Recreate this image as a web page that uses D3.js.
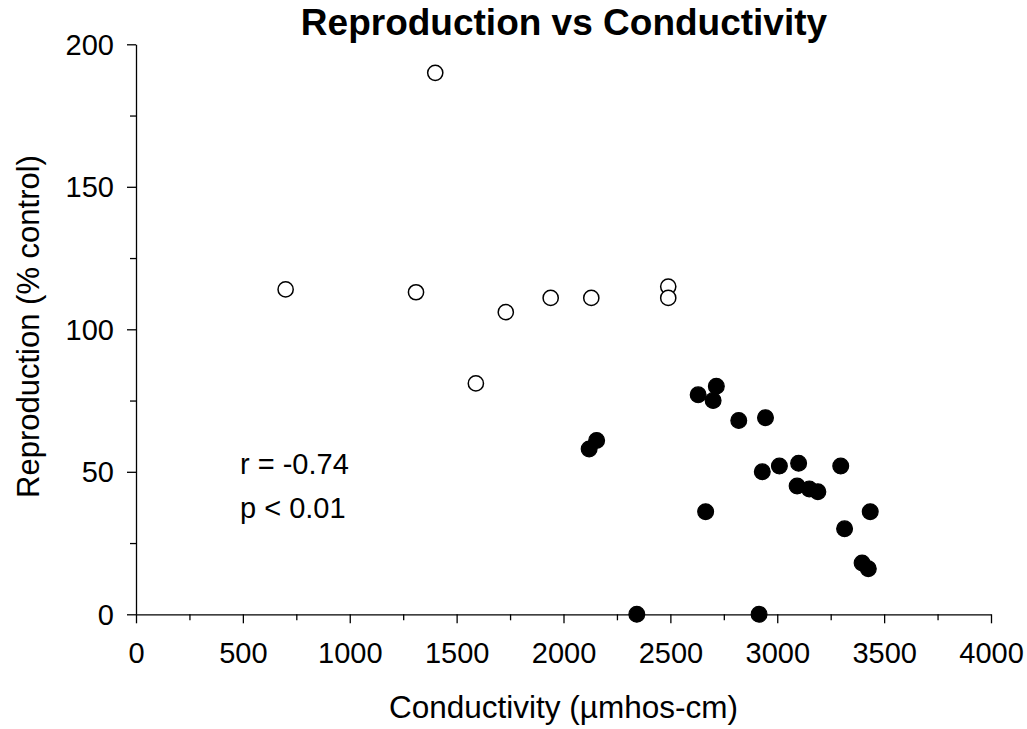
<!DOCTYPE html>
<html><head><meta charset="utf-8">
<script src="https://cdn.jsdelivr.net/npm/d3@7"></script>
<style>
body{margin:0;background:#fff;}
svg{display:block;font-family:"Liberation Sans",Arial,sans-serif;}
</style></head>
<body>
<script>
const openX = [700, 1310, 1400, 1590, 1730, 1940, 2130, 2490, 2490];
const openY = [114, 113, 190, 81, 106, 111, 111, 115, 111];
const filledX = [2120, 2155, 2343, 2630, 2665, 2700, 2715, 2820, 2915, 2930, 2945, 3010, 3093, 3100, 3150, 3190, 3297, 3315, 3397, 3426, 3435];
const filledY = [58, 61, 0, 77, 36, 75, 80, 68, 0, 50, 69, 52, 45, 53, 44, 43, 52, 30, 18, 16, 36];
const xTicks = [0, 500, 1000, 1500, 2000, 2500, 3000, 3500, 4000];
const yTicks = [0, 50, 100, 150, 200];
const xMinor = [250, 750, 1250, 1750, 2250, 2750, 3250, 3750];
const yMinor = [25, 75, 125, 175];
const title = "Reproduction vs Conductivity";
const xTitle = "Conductivity (µmhos-cm)";
const yTitle = "Reproduction (% control)";
const stats = ["r = -0.74", "p < 0.01"];

const W = 1027, H = 729;
const svg = d3.select("body").append("svg").attr("width", W).attr("height", H);
const x = d3.scaleLinear().domain([0, 4000]).range([136, 991]);
const y = d3.scaleLinear().domain([0, 200]).range([614.3, 44.3]);

function styleAxis(g){
  g.selectAll("path").attr("stroke","#000").attr("stroke-width",1.3);
  g.selectAll("line").attr("stroke","#000").attr("stroke-width",1.3);
  g.selectAll("text").attr("fill","#000").style("font-size","29px").style("font-family","'Liberation Sans',Arial,sans-serif");
}
// minor ticks
svg.append("g").attr("transform",`translate(0,${y(0)})`)
  .call(d3.axisBottom(x).tickValues(xMinor).tickSize(6).tickFormat("").tickSizeOuter(0))
  .call(g=>g.select("path").remove()).call(styleAxis);
svg.append("g").attr("transform",`translate(${x(0)},0)`)
  .call(d3.axisLeft(y).tickValues(yMinor).tickSize(6).tickFormat("").tickSizeOuter(0))
  .call(g=>g.select("path").remove()).call(styleAxis);
// major
const gx = svg.append("g").attr("transform",`translate(0,${y(0)})`)
  .call(d3.axisBottom(x).tickValues(xTicks).tickSize(9).tickSizeOuter(0).tickPadding(8).tickFormat(d3.format("d")))
  .call(styleAxis);
gx.selectAll("text").attr("dy",null).attr("y",49).attr("dominant-baseline","alphabetic");
const gy = svg.append("g").attr("transform",`translate(${x(0)},0)`)
  .call(d3.axisLeft(y).tickValues(yTicks).tickSize(9).tickSizeOuter(0).tickFormat(d3.format("d")))
  .call(styleAxis);
gy.selectAll("text").attr("x",-22).attr("dy","0.35em");

// points
svg.append("g").selectAll("circle").data(openX.map((v,i)=>[v,openY[i]])).join("circle")
  .attr("cx",d=>x(d[0])).attr("cy",d=>y(d[1])).attr("r",7.6)
  .attr("fill","#fff").attr("stroke","#000").attr("stroke-width",1.5);
svg.append("g").selectAll("circle").data(filledX.map((v,i)=>[v,filledY[i]])).join("circle")
  .attr("cx",d=>x(d[0])).attr("cy",d=>y(d[1])).attr("r",7.9)
  .attr("fill","#000").attr("stroke","#000").attr("stroke-width",1.2);

// titles
svg.append("text").attr("x",564).attr("y",35).attr("text-anchor","middle")
  .style("font-size","37px").style("font-weight","bold").text(title);
svg.append("text").attr("x",563.5).attr("y",718).attr("text-anchor","middle")
  .style("font-size","31.5px").text(xTitle);
svg.append("text").attr("transform","translate(39,326.5) rotate(-90)").attr("text-anchor","middle")
  .style("font-size","31px").text(yTitle);
svg.append("g").selectAll("text").data(stats).join("text")
  .attr("x",240).attr("y",(d,i)=>473.5+i*44).style("font-size","29px").text(d=>d);
</script>
</body></html>
